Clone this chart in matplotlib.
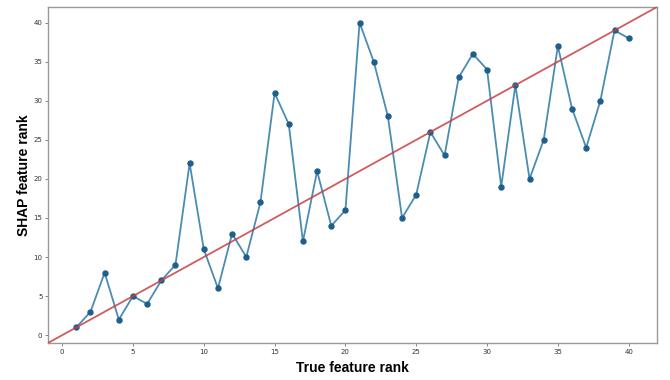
import matplotlib
matplotlib.use("Agg")
import matplotlib.pyplot as plt

true_rank = list(range(1, 41))
shap_rank = [1, 3, 8, 2, 5, 4, 7, 9, 22, 11, 6, 13, 10, 17, 31, 27, 12, 21, 14, 16,
             40, 35, 28, 15, 18, 26, 23, 33, 36, 34, 19, 32, 20, 25, 37, 29, 24, 30, 39, 38]
x_ticks = [0, 5, 10, 15, 20, 25, 30, 35, 40]
y_ticks = [0, 5, 10, 15, 20, 25, 30, 35, 40]

fig = plt.figure(figsize=(6.7, 3.8), dpi=100)
ax = fig.add_axes([48/670, 1-343/380, (657-48)/670, (343-7)/380])
ax.plot(true_rank, shap_rank, color='#4a8db3', lw=1.3, marker='o', ms=3.6,
        markerfacecolor='#1f5f8b', markeredgecolor='#1f5f8b', zorder=2)
ax.plot([-1, 42], [-1, 42], color='#c84040', lw=1.3, alpha=0.85, zorder=3)
ax.set_xlim(-1, 42)
ax.set_ylim(-1, 42)
ax.set_xticks(x_ticks)
ax.set_yticks(y_ticks)
ax.tick_params(labelsize=5, length=2, width=0.5, color='#555555', labelcolor='#333333', pad=2)
for s in ax.spines.values():
    s.set_color('#999999')
    s.set_linewidth(1.0)
ax.set_xlabel('True feature rank', fontsize=10, fontweight='bold', family='Liberation Sans', labelpad=5)
ax.set_ylabel('SHAP feature rank', fontsize=10, fontweight='bold', family='Liberation Sans', labelpad=2)
fig.savefig('out.png', dpi=100)
